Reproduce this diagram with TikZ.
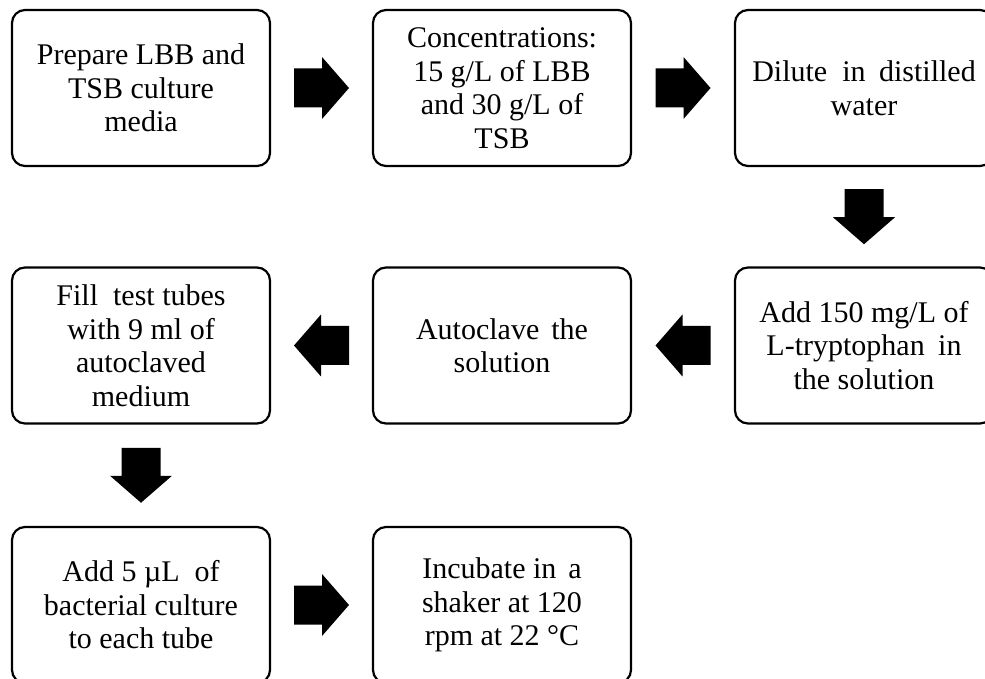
\documentclass[tikz,border=0pt]{standalone}
\usepackage{fontspec}
\setmainfont{Liberation Serif}
\usetikzlibrary{calc}
\begin{document}
\begin{tikzpicture}[x=1pt,y=1pt,
  stepbox/.style={draw=black,line width=2.2pt,rounded corners=13pt,
    minimum width=258pt,minimum height=156pt,inner sep=0pt,align=center,
    font=\fontsize{30}{33.5}\selectfont},
  blockarrow/.pic={\fill[black] (-27.5,19.5) -- (0.5,19.5) -- (0.5,31) -- (27.5,0)
    -- (0.5,-31) -- (0.5,-19.5) -- (-27.5,-19.5) -- cycle;}
]
\useasboundingbox (0,0) rectangle (985,678);
\clip (0,0) rectangle (985,678);
\node[stepbox] (b1) at (141,590) {Prepare LBB and\\TSB culture\\media};
\node[stepbox] (b2) at (502,590) {Concentrations:\\15 g/L of LBB\\and 30 g/L of\\TSB};
\node[stepbox] (b3) at (864,590) {Dilute\hspace{0.25em} in\hspace{0.2em} distilled\\water};
\node[stepbox] (b4) at (864,332.5) {Add 150 mg/L of\\L-tryptophan\hspace{0.2em} in\\the solution};
\node[stepbox] (b5) at (502,332.5) {Autoclave\hspace{0.15em} the\\solution};
\node[stepbox] (b6) at (141,332.5) {Fill\hspace{0.25em} test tubes\\with 9 ml of\\autoclaved\\medium};
\node[stepbox] (b7) at (141,73) {Add 5 µL\hspace{0.25em} of\\bacterial culture\\to each tube};
\node[stepbox] (b8) at (502,73) {Incubate in\hspace{0.15em} a\\shaker at 120\\rpm at 22 °C};
\path ($(b1.east)!0.5!(b2.west)$) pic {blockarrow};
\path ($(b2.east)!0.5!(b3.west)$) pic {blockarrow};
\path ($(b3.south)!0.5!(b4.north)$) pic[rotate=-90] {blockarrow};
\path ($(b4.west)!0.5!(b5.east)$) pic[rotate=180] {blockarrow};
\path ($(b5.west)!0.5!(b6.east)$) pic[rotate=180] {blockarrow};
\path ($(b6.south)!0.5!(b7.north)$) pic[rotate=-90] {blockarrow};
\path ($(b7.east)!0.5!(b8.west)$) pic {blockarrow};
\end{tikzpicture}
\end{document}
